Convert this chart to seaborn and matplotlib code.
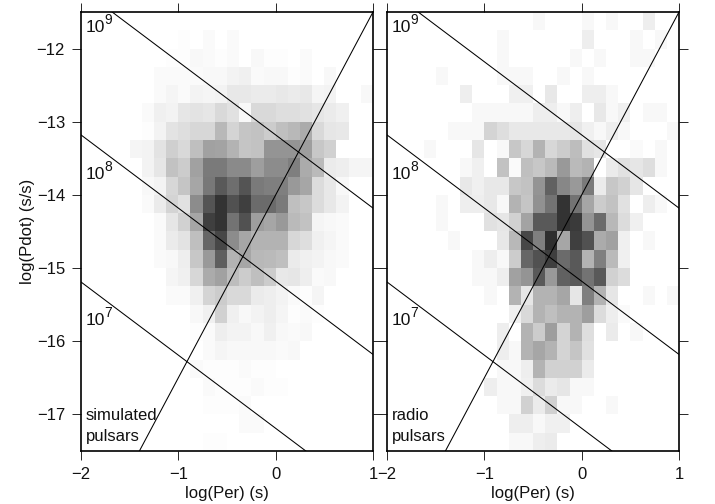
import numpy as np
import matplotlib
matplotlib.use("Agg")
import matplotlib.pyplot as plt
import seaborn as sns

# Cell darkness in percent; rows run from log(Pdot) = -11.5 downward, columns from log(Per) = -2 rightward.
sim_density = [
 [0]*24,
 [0,0,0,0,0,0,0,0,1,0,2,0,2,0,0,0,0,0,0,0,0,0,0,0],
 [0,0,0,0,0,0,0,1,1,3,2,1,2,0,3,1,1,0,2,0,0,0,0,0],
 [0,0,0,0,0,0,2,2,2,2,3,3,5,6,2,3,3,1,2,0,3,0,0,0],
 [0,0,0,0,0,0,2,4,2,5,4,5,9,9,8,8,9,8,9,4,5,0,0,3],
 [0,0,0,0,0,2,6,5,10,11,10,15,12,3,15,15,13,13,12,10,8,6,0,0],
 [0,0,0,0,0,1,5,11,13,16,16,28,17,23,24,20,25,28,33,15,10,9,0,0],
 [0,0,0,0,4,5,11,19,15,25,37,36,30,23,24,42,42,42,38,22,18,0,0,0],
 [0,0,0,0,0,5,10,24,20,37,52,52,46,46,38,45,45,50,33,27,8,7,4,4],
 [0,0,0,0,0,3,5,16,23,35,53,65,57,67,52,50,50,40,35,14,9,3,0,0],
 [0,0,0,0,0,2,8,17,12,45,67,80,68,75,58,58,52,25,22,14,9,5,0,0],
 [0,0,0,0,0,0,2,10,18,35,75,80,55,68,38,35,40,27,24,4,3,2,0,0],
 [0,0,0,0,0,0,2,8,11,25,60,72,45,35,30,30,30,16,13,6,4,2,0,0],
 [0,0,0,0,0,0,2,3,7,22,40,63,30,35,28,27,25,8,6,5,3,2,0,0],
 [0,0,0,0,0,0,0,4,6,16,33,37,26,20,25,20,9,10,7,2,3,0,0,0],
 [0,0,0,0,0,0,0,2,2,6,17,20,15,15,8,7,5,2,1,4,0,0,0,0],
 [0,0,0,0,0,0,0,0,0,3,6,18,6,3,5,7,4,1,2,1,0,0,0,0],
 [0,0,0,0,0,0,0,0,0,1,2,7,5,5,3,6,3,2,3,0,0,0,0,0],
 [0,0,0,0,0,0,0,0,0,0,2,4,3,3,3,3,2,3,0,0,0,0,0,0],
 [0,0,0,0,0,0,0,0,0,2,1,1,1,2,1,1,0,0,0,0,0,0,0,0],
 [0,0,0,0,0,0,0,0,0,0,2,1,1,1,2,1,1,0,0,0,0,0,0,0],
 [0,0,0,0,0,0,0,0,0,0,1,1,1,2,0,0,0,0,0,0,0,0,0,0],
 [0,0,0,0,0,0,0,0,0,0,0,0,0,2,2,0,0,0,0,0,0,0,0,0],
 [0,0,0,0,0,0,0,0,0,0,1,1,0,0,0,0,0,0,0,0,0,0,0,0],
]
radio_density = [
 [0,0,0,0,0,0,0,0,0,0,0,0,3,0,0,0,3,0,3,0,0,7,0,0],
 [0,0,0,0,0,0,0,0,0,3,0,0,0,0,0,0,7,0,0,0,3,0,3,0],
 [0,0,0,0,0,0,0,0,0,3,0,0,0,0,0,3,0,3,0,0,3,3,0,0],
 [0,0,0,0,3,0,0,0,0,3,3,3,0,0,3,0,3,0,0,0,0,0,0,0],
 [0,0,0,0,0,0,7,0,0,0,6,6,0,9,0,0,7,7,3,0,0,0,0,0],
 [0,0,0,0,0,0,0,3,3,3,3,3,7,7,3,7,0,9,3,6,0,3,3,0],
 [0,0,0,0,0,3,3,3,17,13,9,9,9,9,9,10,6,3,7,3,0,0,0,3],
 [0,0,0,3,0,0,0,10,0,3,22,16,30,16,20,26,12,10,0,0,2,0,3,0],
 [0,0,0,0,0,0,3,6,0,24,2,25,22,27,40,27,30,0,8,12,10,13,3,0],
 [0,0,0,0,0,0,9,6,9,9,22,24,42,62,47,40,52,8,22,18,10,0,0,0],
 [0,0,0,0,3,0,7,7,9,3,30,23,43,55,80,55,35,20,24,12,0,7,3,0],
 [0,0,0,0,3,0,0,0,12,10,18,36,65,65,80,77,42,58,28,14,6,0,0,0],
 [0,0,0,0,0,3,0,0,0,9,28,72,50,82,35,75,68,33,37,6,0,3,0,0],
 [0,0,0,0,0,0,0,3,7,3,20,60,68,75,58,65,30,50,27,6,0,0,0,0],
 [0,0,0,0,0,0,0,3,3,7,37,42,65,40,62,65,55,65,18,14,0,0,0,0],
 [0,0,0,0,0,0,0,0,3,0,30,10,30,30,35,10,50,30,10,0,0,3,0,3],
 [0,0,0,0,0,0,0,0,0,0,6,15,30,25,30,30,38,14,7,2,0,0,0,0],
 [0,0,0,0,0,0,0,0,0,7,0,30,20,38,17,30,13,0,8,0,3,0,0,0],
 [0,0,0,0,0,0,0,0,0,7,3,30,35,30,17,23,12,0,0,0,0,0,0,0],
 [0,0,0,0,0,0,0,0,0,3,3,7,30,18,18,18,8,0,0,0,0,0,0,0],
 [0,0,0,0,0,0,0,0,7,3,3,6,14,8,10,3,3,0,0,0,0,0,0,0],
 [0,0,0,0,0,0,0,0,0,3,3,18,8,18,3,3,0,0,3,0,0,0,0,0],
 [0,0,0,0,0,0,0,0,0,0,7,7,3,6,6,0,0,0,0,0,0,0,0,0],
 [0,0,0,0,0,0,0,0,0,0,3,3,7,8,0,0,0,0,0,0,0,0,0,0],
]
x_ticks = [-2, -1, 0, 1]
y_ticks = [-17, -16, -15, -14, -13, -12]
x_range = [-2, 1]
y_range = [-17.5, -11.5]
field_exponents = ["9", "8", "7"]
field_intercepts = [-13.18, -15.18, -17.19]   # log(Pdot) at log(Per)=0, slope -1
field_label_y = [-11.77, -13.78, -15.78]
death_slope = 2.5
death_intercept = -14.0
panel_names = [["simulated", "pulsars"], ["radio", "pulsars"]]
panel_name_y = [-17.08, -17.37]

sns.set_style("white")
plt.rcParams.update({
    "font.family": ["Liberation Sans", "DejaVu Sans"],
    "font.size": 12,
    "text.color": "#111111",
    "axes.labelcolor": "#111111",
})

W, H = 715, 504
fig = plt.figure(figsize=(W/100, H/100), dpi=100)
panels = [(81, 373), (387, 679)]
top, bottom = 12, 451

for k, ((x0, x1), density) in enumerate(zip(panels, [sim_density, radio_density])):
    rect = [x0/W, 1-bottom/H, (x1-x0)/W, (bottom-top)/H]
    base = fig.add_axes(rect)
    sns.heatmap(np.array(density)/100, ax=base, cmap="gray_r", vmin=0, vmax=1,
                cbar=False, xticklabels=False, yticklabels=False)
    base.tick_params(left=False, bottom=False)
    for s in base.spines.values():
        s.set_visible(False)

    ax = fig.add_axes(rect, label=f"overlay{k}")
    ax.patch.set_alpha(0)
    xs = np.array(x_range, dtype=float)
    for c in field_intercepts:
        sns.lineplot(x=xs, y=c - xs, ax=ax, color="black", linewidth=0.75, legend=False)
    sns.lineplot(x=xs, y=death_slope*xs + death_intercept, ax=ax, color="black",
                 linewidth=0.75, legend=False)
    ax.set_xlim(x_range)
    ax.set_ylim(y_range)
    ax.set_xticks(x_ticks)
    ax.set_yticks(y_ticks)
    ax.tick_params(top=True, right=True, bottom=True, left=True, direction="out",
                   length=6.5, width=0.7, pad=5, labelsize=12, labelcolor="#111111",
                   labelleft=(k == 0))
    ax.set_xticklabels([str(v).replace("-", "\u2212") for v in x_ticks])
    ax.set_xlabel("log(Per) (s)", fontsize=12, labelpad=3)
    if k == 0:
        ax.set_yticklabels([str(v).replace("-", "\u2212") for v in y_ticks])
        ax.set_ylabel("log(Pdot) (s/s)", fontsize=12, labelpad=1.5)
    else:
        ax.set_ylabel("")
    for s in ax.spines.values():
        s.set_visible(True)
        s.set_color("black")
        s.set_linewidth(1.2)
    for exp, yy in zip(field_exponents, field_label_y):
        ax.text(-1.95, yy, "10", fontsize=12.5, va="baseline", ha="left")
        ax.annotate(exp, xy=(-1.95, yy), xytext=(13.5, 5.6), textcoords="offset points",
                    fontsize=10, va="baseline", ha="left")
    for name, yy in zip(panel_names[k], panel_name_y):
        ax.text(-1.95, yy, name, fontsize=12, va="baseline", ha="left")

fig.savefig("out.png", dpi=100)
